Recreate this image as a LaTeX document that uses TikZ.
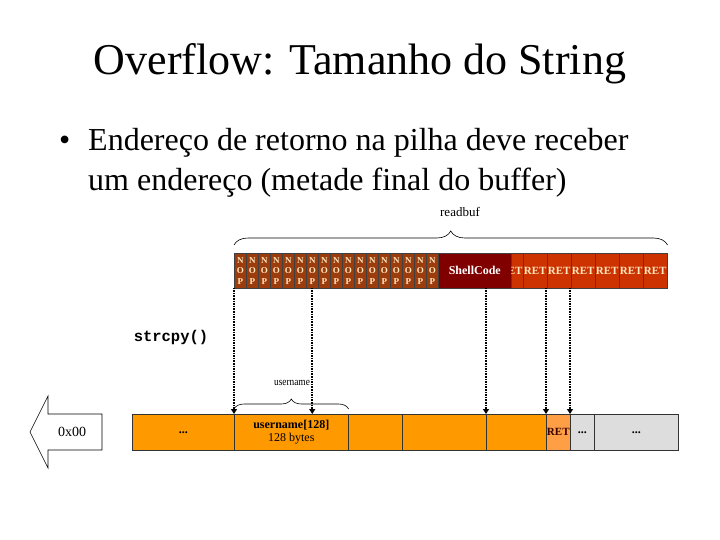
\documentclass[tikz,border=0pt]{standalone}
\usepackage{fontspec}
\setmainfont{Liberation Serif}
\setmonofont{Liberation Mono}
\usetikzlibrary{arrows.meta,decorations.pathreplacing}
\definecolor{nopc}{HTML}{9C3C0C}
\definecolor{shellc}{HTML}{800000}
\definecolor{retc}{HTML}{CC3300}
\definecolor{orangec}{HTML}{FF9900}
\definecolor{retl}{HTML}{FF9F45}
\definecolor{grayc}{HTML}{DDDDDD}
\definecolor{creamc}{HTML}{FFE8C0}
\definecolor{darkred}{HTML}{3A0000}
\begin{document}
\begin{tikzpicture}[x=1pt,y=-1pt,
  topcell/.style={draw=black!75, line width=0.5pt, inner sep=0pt, anchor=north west, minimum height=35pt},
  nopcell/.style={topcell, fill=nopc, minimum width=12pt, text=creamc, align=center,
     font=\bfseries\fontsize{9}{10.5}\selectfont},
  retcell/.style={topcell, fill=retc, minimum width=24pt, text=creamc,
     font=\bfseries\fontsize{11}{12}\selectfont},
  botcell/.style={draw=black!80, line width=0.6pt, inner sep=0pt, anchor=north west, minimum height=36pt,
     fill=orangec, font=\fontsize{12}{13}\selectfont, align=center},
  dotarrow/.style={line width=1.8pt, dash pattern=on 1.6pt off 1pt,
     -{Triangle[width=6pt,length=5pt]}},
  bracestyle/.style={decorate, line width=0.6pt}
]
\useasboundingbox (0,0) rectangle (720,540);

% title and bullet
\node[anchor=base, font=\fontsize{44}{48}\selectfont] (title) at (360,75) {Overflow: Tamanho do String};
\node[anchor=base west, font=\fontsize{32}{36}\selectfont, inner sep=0pt] (bul) at (59,151) {\textbullet};
\node[anchor=base west, font=\fontsize{32}{36}\selectfont, inner sep=0pt, align=left] (line1) at (88,151) {Endereço de retorno na pilha deve receber};
\node[anchor=base west, font=\fontsize{32}{36}\selectfont, inner sep=0pt, align=left] (line2) at (88,191) {um endereço (metade final do buffer)};

% top row: NOPs
\foreach \i in {0,...,16}
  \node[nopcell] (n\i) at ({234+12*\i},253) {N\\O\\P};
\node[topcell, fill=shellc, minimum width=73pt, text=white, font=\bfseries\fontsize{12}{14}\selectfont] (sc) at (438,253) {ShellCode};
\node[topcell, fill=retc, minimum width=12pt] (rp) at (511,253) {};
\begin{scope}
  \clip (rp.north west) rectangle (rp.south east);
  \node[text=creamc, font=\bfseries\fontsize{11}{12}\selectfont] at ([xshift=-6pt]rp.center) {RET};
\end{scope}
\foreach \i in {0,...,5}
  \node[retcell] (r\i) at ({523+24*\i},253) {RET};

% readbuf brace
\coordinate (bl) at ([yshift=8pt]n0.north west);
\coordinate (br) at ([yshift=8pt]r5.north east);
\draw[bracestyle, decoration={brace, amplitude=14pt, aspect=0.5}] (bl) -- (br);
\node[font=\fontsize{13}{15}\selectfont] (readbuf) at (460,212) {readbuf};

% strcpy
\node[font=\ttfamily\bfseries\fontsize{15.5}{17}\selectfont] (strcpy) at (171,337) {strcpy()};

% bottom row
\node[botcell, minimum width=102pt] (b1) at (132,414) {\textbf{...}};
\node[botcell, minimum width=114pt] (b2) at (234,414) {\textbf{username[128]}\\128 bytes};
\node[botcell, minimum width=54pt] (b3) at (348,414) {};
\node[botcell, minimum width=84pt] (b4) at (402,414) {};
\node[botcell, minimum width=60pt] (b5) at (486,414) {};
\node[botcell, minimum width=24pt, fill=retl, text=darkred, font=\bfseries\fontsize{11}{12}\selectfont] (b6) at (546,414) {RET};
\node[botcell, minimum width=24pt, fill=grayc] (b7) at (570,414) {\textbf{...}};
\node[botcell, minimum width=84pt, fill=grayc] (b8) at (594,414) {\textbf{...}};

% username brace
\coordinate (ul) at ([yshift=5pt]b2.north west);
\coordinate (ur) at ([yshift=5pt]b2.north east);
\draw[bracestyle, decoration={brace, amplitude=10pt, aspect=0.5}] (ul) -- (ur);
\node[font=\fontsize{11}{12}\selectfont, xscale=0.85] (uname) at (292,383) {username};

% dotted arrows
\draw[dotarrow] ([yshift=1pt]n0.south west) -- (b2.north west);
\draw[dotarrow] ([yshift=1pt]n6.south) -- (n6.south |- b2.north);
\draw[dotarrow] ([yshift=1pt]b5.north west |- sc.south) -- (b5.north west);
\draw[dotarrow] ([yshift=1pt]b6.north west |- r0.south) -- (b6.north west);
\draw[dotarrow] ([yshift=1pt]b7.north west |- r1.south) -- (b7.north west);

% left arrow 0x00
\draw[fill=white, line width=0.6pt] (30,432) -- (48,396) -- (48,414) -- (102,414) -- (102,450) -- (48,450) -- (48,468) -- cycle;
\node[font=\fontsize{14}{16}\selectfont] (zero) at (72,432) {0x00};
\end{tikzpicture}
\end{document}
